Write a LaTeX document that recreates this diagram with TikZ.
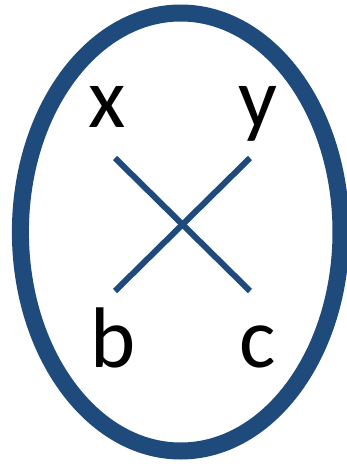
\documentclass[tikz,border=0pt]{standalone}
\usepackage{fontspec}
\setmainfont{Carlito}
\definecolor{ringblue}{HTML}{1F4A7C}
\begin{document}
\begin{tikzpicture}[x=1pt,y=-1pt,
  letter/.style={anchor=base,inner sep=0pt,font=\fontsize{86}{90}\selectfont},
  cross/.style={draw=ringblue,line width=6pt}]
\useasboundingbox (0,0) rectangle (347,464);
\draw[ringblue,line width=17pt] (180.7,232) ellipse [x radius=160.3pt,y radius=219pt];
\node[letter] (x) at (107.5,127) {x};
\node[letter] (y) at (258,127) {y};
\node[letter] (b) at (113.5,367) {b};
\node[letter] (c) at (258,367) {c};
\coordinate (p1) at (115,158);
\coordinate (p2) at (250,291);
\coordinate (p3) at (250,158);
\coordinate (p4) at (115,291);
\draw[cross] (p1) -- (p2);
\draw[cross] (p3) -- (p4);
\end{tikzpicture}
\end{document}
